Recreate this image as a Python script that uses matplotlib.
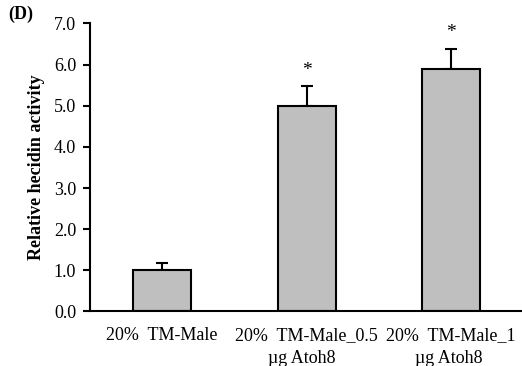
import matplotlib.pyplot as plt

plt.rcParams['font.family'] = ['Liberation Serif', 'DejaVu Serif']

groups = ['20%  TM-Male', '20%  TM-Male_0.5\n\u00b5g Atoh8  ', '20%  TM-Male_1\n\u00b5g Atoh8 ']
activity = [1.0, 5.0, 5.9]
sd = [0.18, 0.48, 0.49]
signif = ['', '*', '*']

fig = plt.figure(figsize=(5.22, 3.66), dpi=100)
ax = fig.add_axes([0.1724, 0.149, 0.83, 0.787])

x = range(len(groups))
ax.bar(x, activity, width=0.4, color='#bfbfbf', edgecolor='black', linewidth=1.5, zorder=2)
ax.errorbar(x, activity, yerr=[[0] * len(sd), sd], fmt='none', ecolor='black',
            elinewidth=1.5, capsize=4, capthick=1.5, zorder=1)

for i, s in enumerate(signif):
    if s:
        ax.text(i, activity[i] + sd[i] + 0.18, s, ha='center', va='bottom', fontsize=14)

ax.set_xlim(-0.5, 2.5)
ax.set_ylim(0, 7)
ax.set_yticks([0, 1, 2, 3, 4, 5, 6, 7])
ax.set_yticklabels([f'{v:.1f}' for v in range(8)], fontsize=13)
ax.set_xticks(list(x))
ax.set_xticklabels(groups, fontsize=13, linespacing=1.5)
ax.tick_params(axis='x', length=0, pad=11)
ax.tick_params(axis='y', direction='out', length=5, width=1.5, pad=5)
ax.set_ylabel('Relative hecidin activity', fontsize=13, fontweight='bold', labelpad=6)

for side in ['top', 'right']:
    ax.spines[side].set_visible(False)
for side in ['left', 'bottom']:
    ax.spines[side].set_linewidth(1.5)

fig.text(0.015, 0.962, '(D)', fontsize=13, fontweight='bold', ha='left', va='center')

fig.savefig('out.png', dpi=100)
